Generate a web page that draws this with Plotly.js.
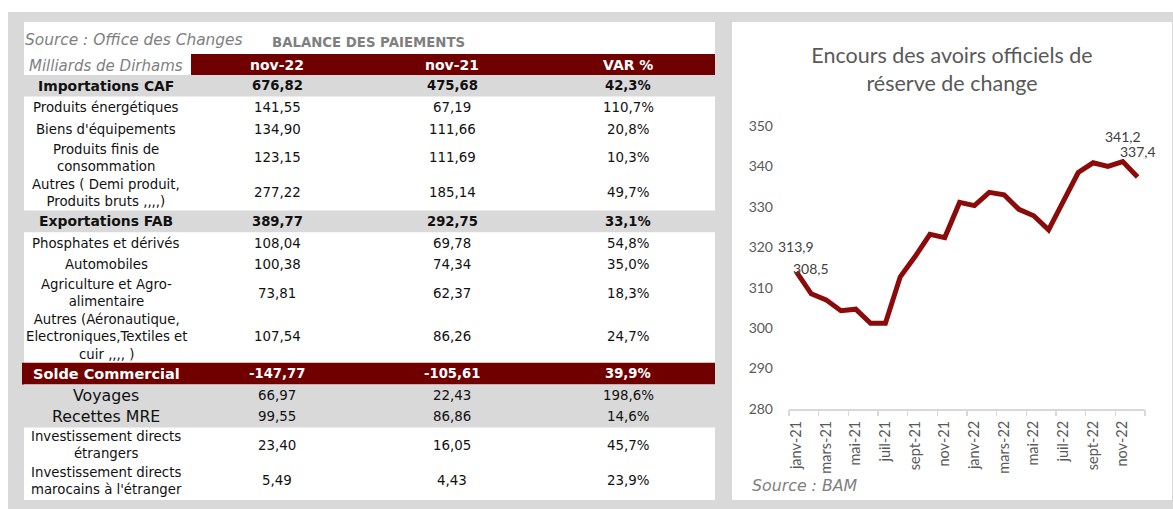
<!DOCTYPE html>
<html><head><meta charset="utf-8">
<script src="https://cdn.plot.ly/plotly-3.0.1.min.js"></script>
<style>html,body{margin:0;padding:0;background:#fff;}#chart{width:1173px;height:509px;}</style>
</head><body><div id="chart"></div>
<script>
// ---------- Table data ----------
const rowLabels = [
  "Importations CAF",
  "Produits énergétiques",
  "Biens d'équipements",
  "Produits finis de<br>consommation",
  "Autres ( Demi produit,<br>Produits bruts ,,,,)",
  "Exportations FAB",
  "Phosphates et dérivés",
  "Automobiles",
  "Agriculture et Agro-<br>alimentaire",
  "Autres (Aéronautique,<br>Electroniques,Textiles et<br>cuir ,,,, )",
  "Solde Commercial",
  "Voyages",
  "Recettes MRE",
  "Investissement directs<br>étrangers",
  "Investissement directs<br>marocains à l'étranger"
];
const nov22 = [676.82, 141.55, 134.90, 123.15, 277.22, 389.77, 108.04, 100.38, 73.81, 107.54, -147.77, 66.97, 99.55, 23.40, 5.49];
const nov21 = [475.68, 67.19, 111.66, 111.69, 185.14, 292.75, 69.78, 74.34, 62.37, 86.26, -105.61, 22.43, 86.86, 16.05, 4.43];
const varPct = [42.3, 110.7, 20.8, 10.3, 49.7, 33.1, 54.8, 35.0, 18.3, 24.7, 39.9, 198.6, 14.6, 45.7, 23.9];
const rowTypes = ["total","item","item","item","item","total","item","item","item","item","balance","flow","flow","item","item"];
const headerCols = ["nov-22", "nov-21", "VAR %"];
const unitLabel = "Milliards de Dirhams";
const tableSource = "Source : Office des Changes";
const tableTitle = "BALANCE DES PAIEMENTS";

// ---------- Line chart data ----------
const months = ["janv-21","févr-21","mars-21","avr-21","mai-21","juin-21","juil-21","août-21","sept-21","oct-21","nov-21","déc-21",
                "janv-22","févr-22","mars-22","avr-22","mai-22","juin-22","juil-22","août-22","sept-22","oct-22","nov-22","déc-22"];
const reserves = [313.9, 308.5, 307.0, 304.3, 304.7, 301.2, 301.2, 312.7, 317.7, 323.2, 322.4, 331.1,
                  330.3, 333.6, 333.0, 329.4, 327.8, 324.3, 331.4, 338.5, 340.9, 340.0, 341.2, 337.4];
const labelledPoints = [0, 1, 22, 23];
const chartTitle = "Encours des avoirs officiels de<br>réserve de change";
const chartSource = "Source : BAM";

// ---------- Layout constants ----------
const W = 1173, H = 509;
const GRAY = "#d9d9d9", RED = "#700000", LINE = "#8b0a0a", TXT = "#111111", SUB = "#7f7f7f", AX = "#595959";
const TFONT = "DejaVu Sans", CFONT = "Lato";
const px = x => x / W, py = y => 1 - y / H;
const fr2 = v => v.toFixed(2).replace('.', ',');
const fr1 = v => v.toFixed(1).replace('.', ',');

const colCenters = [106, 277, 452, 628];
const tblLeft = 24, tblRight = 715, headTop = 54, headBottom = 75;
const rowH = {1: 21.6, 2: 35.4, 3: 52};

const styles = {
  total:   {fill: GRAY, color: TXT, bold: true,  lab: 13.9, val: 13.2},
  item:    {fill: null, color: TXT, bold: false, lab: 13.3, val: 13.4},
  balance: {fill: RED,  color: "#ffffff", bold: true, lab: 14.5, val: 13.2},
  flow:    {fill: GRAY, color: TXT, bold: false, lab: 15.8, val: 13.4}
};

const shapes = [];
const annotations = [];

// panels (paper)
function rectPx(x0, y0, x1, y1, color) {
  shapes.push({type: "rect", xref: "paper", yref: "paper", x0: px(x0), x1: px(x1), y0: py(y1), y1: py(y0),
               fillcolor: color, line: {width: 0}, layer: "below"});
}
rectPx(8, 12, 1173, 509, GRAY);
rectPx(24, 22, 715, 500, "#ffffff");
rectPx(732, 22, 1172, 500, "#ffffff");

// table on hidden pixel axes x2/y2
function cellRect(x0, y0, x1, y1, color) {
  shapes.push({type: "rect", xref: "x2", yref: "y2", x0: x0, x1: x1, y0: y0, y1: y1,
               fillcolor: color, line: {width: 0}, layer: "below"});
}
function txt(x, y, text, size, color, opts) {
  opts = opts || {};
  annotations.push(Object.assign({xref: "x2", yref: "y2", x: x, y: y, text: text, showarrow: false,
    xanchor: "center", yanchor: "middle", align: "center",
    font: {family: TFONT, size: size, color: color}}, opts));
}

// title lines above table
txt(23, 40, "<i>" + tableSource + "</i>", 15.4, SUB, {xanchor: "left"});
txt(270, 42, "<b>" + tableTitle + "</b>", 13.3, SUB, {xanchor: "left"});

// header
cellRect(191, headTop, tblRight, headBottom, RED);
txt(colCenters[0], (headTop + headBottom) / 2 + 1, "<i>" + unitLabel + "</i>", 15, SUB);
headerCols.forEach((h, j) => txt(colCenters[j + 1], (headTop + headBottom) / 2, "<b>" + h + "</b>", 14, "#ffffff"));

// body rows
let yTop = headBottom;
rowLabels.forEach((lab, i) => {
  const lines = lab.split("<br>").length;
  const h = rowH[lines];
  const st = styles[rowTypes[i]];
  if (st.fill) cellRect(rowTypes[i] === "balance" ? 22 : tblLeft, yTop, tblRight, yTop + h, st.fill);
  const yc = yTop + h / 2;
  const b = s => st.bold ? "<b>" + s + "</b>" : s;
  txt(colCenters[0], yc, b(lab), st.lab, st.color);
  txt(colCenters[1], yc, b(fr2(nov22[i])), st.val, st.color);
  txt(colCenters[2], yc, b(fr2(nov21[i])), st.val, st.color);
  txt(colCenters[3], yc, b(fr1(varPct[i]) + "%"), st.val, st.color);
  yTop += h;
});

// chart annotations
labelledPoints.forEach(i => {
  annotations.push({xref: "x", yref: "y", x: months[i], y: reserves[i], text: fr1(reserves[i]),
    showarrow: false, yshift: 25, xanchor: "center", yanchor: "middle",
    font: {family: CFONT, size: 14, color: "#404040"}});
});
annotations.push({xref: "paper", yref: "paper", x: px(750), y: py(485), xanchor: "left", yanchor: "middle",
  text: "<i>" + chartSource + "</i>", showarrow: false, font: {family: TFONT, size: 15.8, color: SUB}});

const xDomain = [px(789), px(1145)];
const yDomain = [py(409), py(126)];

const traces = [
  {type: "scatter", mode: "lines", x: months, y: reserves, xaxis: "x", yaxis: "y",
   line: {color: LINE, width: 5}, hoverinfo: "x+y", cliponaxis: false, showlegend: false},
  {type: "scatter", mode: "lines", x: [], y: [], xaxis: "x2", yaxis: "y2", showlegend: false, hoverinfo: "skip"},
  {type: "scatter", mode: "lines", x: [], y: [], xaxis: "x3", yaxis: "y", showlegend: false, hoverinfo: "skip"}
];

const layout = {
  width: W, height: H, margin: {l: 0, r: 0, t: 0, b: 0, pad: 0},
  paper_bgcolor: "#ffffff", plot_bgcolor: "rgba(0,0,0,0)", showlegend: false,
  title: {text: chartTitle, xref: "paper", yref: "paper", x: px(952), xanchor: "center", y: py(63), yanchor: "top",
          font: {family: CFONT, size: 21.5, color: AX}},
  xaxis: {domain: xDomain, anchor: "y", type: "category", range: [-0.5, months.length - 0.5],
          showline: true, linecolor: GRAY, linewidth: 2, showgrid: false, zeroline: false,
          ticks: "", tickmode: "array", tickvals: months.filter((m, i) => i % 2 === 0),
          tickangle: -90, ticklabelstandoff: 4, tickfont: {family: CFONT, size: 14.5, color: AX}, fixedrange: true},
  xaxis3: {domain: xDomain, anchor: "y", overlaying: "x", type: "linear", range: [-0.5, months.length - 0.5],
           showline: false, showgrid: false, zeroline: false, showticklabels: false,
           ticks: "outside", ticklen: 6, tickwidth: 1.5, tickcolor: GRAY, tickmode: "linear", tick0: -0.5, dtick: 2, fixedrange: true},
  yaxis: {domain: yDomain, anchor: "x", range: [280, 350], dtick: 10, tick0: 280, showline: false, showgrid: false,
          zeroline: false, ticks: "", ticklabelstandoff: 15, tickfont: {family: CFONT, size: 14, color: AX}, fixedrange: true},
  xaxis2: {domain: [0, 1], anchor: "y2", range: [0, W], visible: false, fixedrange: true},
  yaxis2: {domain: [0, 1], anchor: "x2", range: [H, 0], visible: false, fixedrange: true},
  shapes: shapes, annotations: annotations
};

Plotly.newPlot("chart", traces, layout, {displayModeBar: false, staticPlot: true});
</script>
</body></html>
